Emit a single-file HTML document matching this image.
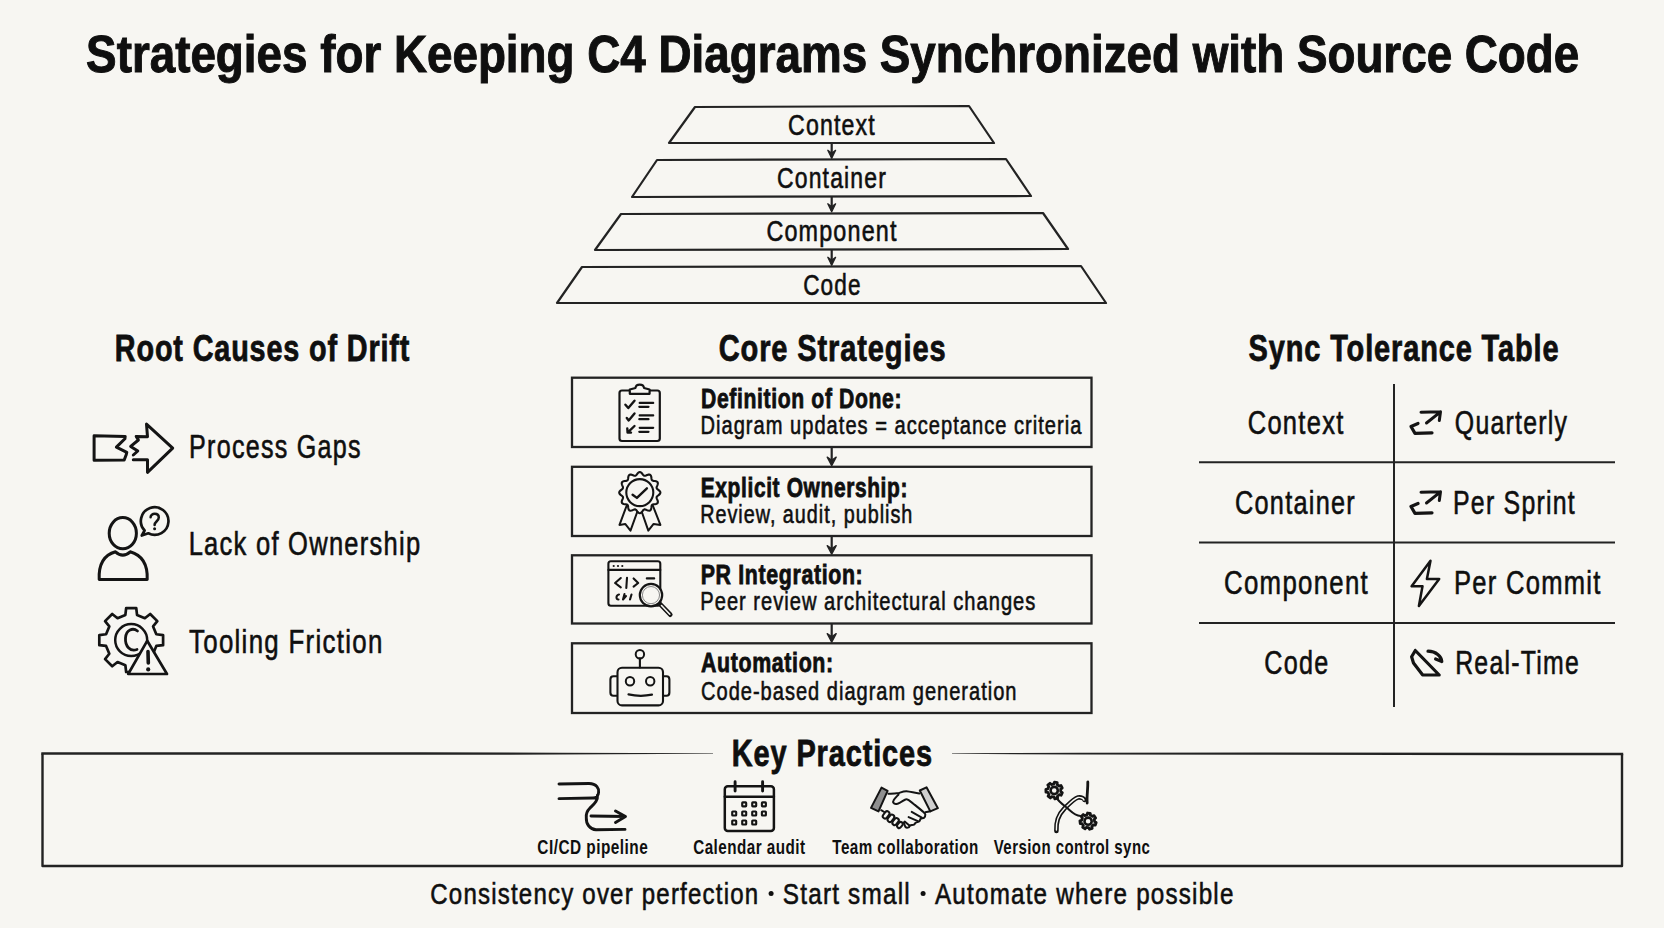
<!DOCTYPE html>
<html><head><meta charset="utf-8"><style>
html,body{margin:0;padding:0;background:#f7f6f2;}
svg{display:block;font-family:"Liberation Sans",sans-serif;}
</style></head><body>
<svg width="1664" height="928" viewBox="0 0 1664 928">
<rect width="1664" height="928" fill="#f7f6f2"/>
<g fill="#0f0f0f">
<text transform="matrix(0.8799 0 0 1 86.12 72.20)" font-size="52.04" font-weight="bold" stroke="#0f0f0f" stroke-width="1.0" letter-spacing="0.000">Strategies for Keeping C4 Diagrams Synchronized with Source Code</text>
<text transform="matrix(0.7881 0 0 1 788.11 134.70)" font-size="29.36" font-weight="normal" stroke="#0f0f0f" stroke-width="0.6" letter-spacing="1.468">Context</text>
<text transform="matrix(0.7748 0 0 1 777.03 188.40)" font-size="29.65" font-weight="normal" stroke="#0f0f0f" stroke-width="0.6" letter-spacing="1.483">Container</text>
<text transform="matrix(0.8037 0 0 1 766.40 241.10)" font-size="29.07" font-weight="normal" stroke="#0f0f0f" stroke-width="0.6" letter-spacing="1.454">Component</text>
<text transform="matrix(0.7699 0 0 1 803.13 295.00)" font-size="29.36" font-weight="normal" stroke="#0f0f0f" stroke-width="0.6" letter-spacing="1.468">Code</text>
<text transform="matrix(0.7675 0 0 1 114.86 361.30)" font-size="37.50" font-weight="bold" stroke="#0f0f0f" stroke-width="0.8" letter-spacing="1.125">Root Causes of Drift</text>
<text transform="matrix(0.7840 0 0 1 718.72 361.30)" font-size="37.06" font-weight="bold" stroke="#0f0f0f" stroke-width="0.8" letter-spacing="1.112">Core Strategies</text>
<text transform="matrix(0.7813 0 0 1 1248.62 361.30)" font-size="37.06" font-weight="bold" stroke="#0f0f0f" stroke-width="0.8" letter-spacing="1.112">Sync Tolerance Table</text>
<text transform="matrix(0.7683 0 0 1 189.06 457.80)" font-size="32.70" font-weight="normal" stroke="#0f0f0f" stroke-width="0.6" letter-spacing="1.635">Process Gaps</text>
<text transform="matrix(0.7799 0 0 1 188.64 555.10)" font-size="32.70" font-weight="normal" stroke="#0f0f0f" stroke-width="0.6" letter-spacing="1.635">Lack of Ownership</text>
<text transform="matrix(0.7909 0 0 1 189.00 652.50)" font-size="32.70" font-weight="normal" stroke="#0f0f0f" stroke-width="0.6" letter-spacing="1.635">Tooling Friction</text>
<text transform="matrix(0.7780 0 0 1 701.02 408.00)" font-size="27.18" font-weight="bold" stroke="#0f0f0f" stroke-width="0.8" letter-spacing="0.815">Definition of Done:</text>
<text transform="matrix(0.7603 0 0 1 700.48 433.80)" font-size="26.45" font-weight="normal" stroke="#0f0f0f" stroke-width="0.6" letter-spacing="1.323">Diagram updates = acceptance criteria</text>
<text transform="matrix(0.7706 0 0 1 700.73 497.30)" font-size="27.18" font-weight="bold" stroke="#0f0f0f" stroke-width="0.8" letter-spacing="0.815">Explicit Ownership:</text>
<text transform="matrix(0.7482 0 0 1 700.20 523.30)" font-size="26.45" font-weight="normal" stroke="#0f0f0f" stroke-width="0.6" letter-spacing="1.323">Review, audit, publish</text>
<text transform="matrix(0.7857 0 0 1 700.71 584.30)" font-size="27.18" font-weight="bold" stroke="#0f0f0f" stroke-width="0.8" letter-spacing="0.815">PR Integration:</text>
<text transform="matrix(0.7605 0 0 1 700.28 610.00)" font-size="26.45" font-weight="normal" stroke="#0f0f0f" stroke-width="0.6" letter-spacing="1.323">Peer review architectural changes</text>
<text transform="matrix(0.7861 0 0 1 701.00 672.40)" font-size="27.18" font-weight="bold" stroke="#0f0f0f" stroke-width="0.8" letter-spacing="0.815">Automation:</text>
<text transform="matrix(0.7580 0 0 1 701.04 699.60)" font-size="26.45" font-weight="normal" stroke="#0f0f0f" stroke-width="0.6" letter-spacing="1.323">Code-based diagram generation</text>
<text transform="matrix(0.7803 0 0 1 1247.72 433.70)" font-size="32.70" font-weight="normal" stroke="#0f0f0f" stroke-width="0.6" letter-spacing="1.635">Context</text>
<text transform="matrix(0.7605 0 0 1 1454.84 433.70)" font-size="32.70" font-weight="normal" stroke="#0f0f0f" stroke-width="0.6" letter-spacing="1.635">Quarterly</text>
<text transform="matrix(0.7734 0 0 1 1235.03 513.50)" font-size="32.70" font-weight="normal" stroke="#0f0f0f" stroke-width="0.6" letter-spacing="1.635">Container</text>
<text transform="matrix(0.7608 0 0 1 1452.98 513.50)" font-size="32.70" font-weight="normal" stroke="#0f0f0f" stroke-width="0.6" letter-spacing="1.635">Per Sprint</text>
<text transform="matrix(0.7895 0 0 1 1224.01 593.70)" font-size="32.70" font-weight="normal" stroke="#0f0f0f" stroke-width="0.6" letter-spacing="1.635">Component</text>
<text transform="matrix(0.7817 0 0 1 1454.04 593.70)" font-size="32.70" font-weight="normal" stroke="#0f0f0f" stroke-width="0.6" letter-spacing="1.635">Per Commit</text>
<text transform="matrix(0.7691 0 0 1 1264.33 673.60)" font-size="32.70" font-weight="normal" stroke="#0f0f0f" stroke-width="0.6" letter-spacing="1.635">Code</text>
<text transform="matrix(0.7600 0 0 1 1455.18 673.60)" font-size="32.70" font-weight="normal" stroke="#0f0f0f" stroke-width="0.6" letter-spacing="1.635">Real-Time</text>
<text transform="matrix(0.7904 0 0 1 731.82 766.20)" font-size="36.63" font-weight="bold" stroke="#0f0f0f" stroke-width="0.8" letter-spacing="1.099">Key Practices</text>
<text transform="matrix(0.7738 0 0 1 537.33 854.20)" font-size="19.91" font-weight="bold" stroke="#0f0f0f" stroke-width="0.0" letter-spacing="0.597">CI/CD pipeline</text>
<text transform="matrix(0.7655 0 0 1 693.23 854.20)" font-size="19.91" font-weight="bold" stroke="#0f0f0f" stroke-width="0.0" letter-spacing="0.597">Calendar audit</text>
<text transform="matrix(0.7632 0 0 1 832.30 854.20)" font-size="19.91" font-weight="bold" stroke="#0f0f0f" stroke-width="0.0" letter-spacing="0.597">Team collaboration</text>
<text transform="matrix(0.7539 0 0 1 993.70 854.20)" font-size="19.91" font-weight="bold" stroke="#0f0f0f" stroke-width="0.0" letter-spacing="0.597">Version control sync</text>
<text transform="matrix(0.8032 0 0 1 430.30 904.30)" font-size="29.94" font-weight="normal" stroke="#0f0f0f" stroke-width="0.6" letter-spacing="1.497">Consistency over perfection</text>
<text transform="matrix(0.8117 0 0 1 782.79 904.30)" font-size="29.94" font-weight="normal" stroke="#0f0f0f" stroke-width="0.6" letter-spacing="1.497">Start small</text>
<text transform="matrix(0.8087 0 0 1 935.00 904.30)" font-size="29.94" font-weight="normal" stroke="#0f0f0f" stroke-width="0.6" letter-spacing="1.497">Automate where possible</text>
</g>
<g fill="none" stroke="#232323" stroke-width="2.2" stroke-linejoin="round">
<path d="M695,107 L969,106 L994,143 L669,143 Z"/>
<path d="M657,160 L1006,159 L1031,196 L632,197 Z"/>
<path d="M621,214 L1043,213 L1068,249 L595,250 Z"/>
<path d="M582,267 L1081,266 L1106,303 L557,303 Z"/>
</g>
<path d="M831.7,143 L831.7,157.3" stroke="#232323" stroke-width="2.2" fill="none"/><path d="M827.8000000000001,150.3 L831.7,158.3 L835.6,150.3 L831.7,153.34 Z" stroke="#232323" stroke-width="1.32" fill="#232323" stroke-linejoin="round"/>
<path d="M831.7,197 L831.7,210.8" stroke="#232323" stroke-width="2.2" fill="none"/><path d="M827.8000000000001,203.8 L831.7,211.8 L835.6,203.8 L831.7,206.84 Z" stroke="#232323" stroke-width="1.32" fill="#232323" stroke-linejoin="round"/>
<path d="M831.7,250 L831.7,264.3" stroke="#232323" stroke-width="2.2" fill="none"/><path d="M827.8000000000001,257.3 L831.7,265.3 L835.6,257.3 L831.7,260.34000000000003 Z" stroke="#232323" stroke-width="1.32" fill="#232323" stroke-linejoin="round"/>
<circle cx="771.1" cy="893.5" r="2.5" fill="#0f0f0f"/><circle cx="923.1" cy="893.5" r="2.5" fill="#0f0f0f"/>
<g fill="none" stroke="#232323" stroke-width="2.3">
<rect x="572" y="377.7" width="519.5" height="69.30000000000001"/>
<rect x="572" y="466.8" width="519.5" height="69.19999999999999"/>
<rect x="572" y="555.3" width="519.5" height="68.20000000000005"/>
<rect x="572" y="643.3" width="519.5" height="69.70000000000005"/>
</g>
<path d="M831.7,447 L831.7,464.6" stroke="#232323" stroke-width="2.2" fill="none"/><path d="M827.2,457.1 L831.7,465.6 L836.2,457.1 L831.7,460.33000000000004 Z" stroke="#232323" stroke-width="1.32" fill="#232323" stroke-linejoin="round"/>
<path d="M831.7,536 L831.7,553.0999999999999" stroke="#232323" stroke-width="2.2" fill="none"/><path d="M827.2,545.5999999999999 L831.7,554.0999999999999 L836.2,545.5999999999999 L831.7,548.8299999999999 Z" stroke="#232323" stroke-width="1.32" fill="#232323" stroke-linejoin="round"/>
<path d="M831.7,623.5 L831.7,641.0999999999999" stroke="#232323" stroke-width="2.2" fill="none"/><path d="M827.2,633.5999999999999 L831.7,642.0999999999999 L836.2,633.5999999999999 L831.7,636.8299999999999 Z" stroke="#232323" stroke-width="1.32" fill="#232323" stroke-linejoin="round"/>
<g stroke="#232323" stroke-width="2" fill="none">
<path d="M1394,384 L1394,707"/>
<path d="M1199,462.2 L1615,462.2"/>
<path d="M1199,542.4 L1615,542.4"/>
<path d="M1199,623 L1615,623"/>
</g>
<path d="M42.5,753.6 L42.5,866 L1622,866 L1622,754" fill="none" stroke="#232323" stroke-width="2.4" stroke-linejoin="round"/>
<path fill="#232323" d="M41.3,752.35 L420.0,752.35 L560.0,752.65 L713.0,753.35 L713.0,753.85 L560.0,754.55 L420.0,754.85 L41.3,754.85 Z"/>
<path fill="#232323" d="M952.0,753.35 L1080.0,752.80 L1260.0,752.40 L1623.2,752.75 L1623.2,755.25 L1260.0,754.80 L1080.0,754.40 L952.0,753.85 Z"/>
<g fill="none" stroke="#141414" stroke-linecap="round" stroke-linejoin="round">
<path stroke-width="3.0" d="M125.2,436.4 L94.1,435.8 L94.1,460.3 L124.2,460 L126.1,455 L126.8,452.3 L116.4,447.1 L124.9,438.7 Z"/>
<path stroke-width="3.0" d="M133.3,455 L137.8,451 L130.7,446.4 L138.4,440 L136.2,436.4 L147.5,436.8 L146.5,424.1 L172.7,448.1 L147.5,472.3 L147.5,459.7 L133.3,459.7"/>
<ellipse stroke-width="3.0" cx="122.8" cy="533.2" rx="13.6" ry="15.6"/>
<path stroke-width="3.0" d="M99.2,579.4 C98.5,564 104,555 115.5,551.8 Q122.8,558.5 130.2,551.8 C141.5,555 147.8,564 147.2,579.4 Z"/>
<path stroke-width="2.7" d="M144.6,530.5 A13.8,13.8 0 1 1 148.3,533.3 L141.8,535.5 Z"/>
<path stroke-width="2.5" d="M150.6,517.2 C150.6,512.8 158.8,512.5 158.8,517.6 C158.8,521 154.6,521.5 154.6,525"/>
<circle cx="154.6" cy="528.8" r="1.5" fill="#141414" stroke="none"/>
<path stroke-width="2.7" d="M125.37,614.97 L126.15,608.20 L136.25,608.20 L137.03,614.97 L144.85,618.21 L150.19,613.97 L157.33,621.11 L153.09,626.45 L156.33,634.27 L163.10,635.05 L163.10,645.15 L156.33,645.93 L153.09,653.75 L157.33,659.09 L150.19,666.23 L144.85,661.99 L137.03,665.23 L136.25,672.00 L126.15,672.00 L125.37,665.23 L117.55,661.99 L112.21,666.23 L105.07,659.09 L109.31,653.75 L106.07,645.93 L99.30,645.15 L99.30,635.05 L106.07,634.27 L109.31,626.45 L105.07,621.11 L112.21,613.97 L117.55,618.21 Z"/>
<circle stroke-width="2.5" cx="131.2" cy="640.1" r="16"/>
<path stroke-width="2.8" d="M137.5,631 C133,627.5 126,629.5 125.5,638 C125,646 130,652 137,649.5"/>
<path stroke-width="2.7" fill="#f7f6f2" d="M147.2,640.8 L167,674 L128.2,674 Z"/>
<path stroke-width="3.6" d="M148,651.5 L148.3,663"/>
<circle cx="148.2" cy="669.4" r="2.1" fill="#141414" stroke="none"/>
<rect stroke-width="2.2" x="619.5" y="390.5" width="40.3" height="50.5" rx="2.5"/>
<path stroke-width="2.2" fill="#f7f6f2" d="M629.8,393.8 L629.8,389.5 L635.5,388 C636,383.5 643.5,383.5 644,388 L649.6,389.5 L649.6,393.8 Z"/>
<path stroke-width="2.4" d="M625.4,404.7 L628.3,408 L634.5,400.7 M626.8,417.9 L628.7,420.4 L634.5,413.5 M634.5,426 L627.6,432.6 M627.3,428.5 L627.6,432.6 L631,432.6"/>
<path stroke-width="2.2" d="M639.7,402.9 L653.2,402.9 M639.3,406.8 L648.5,406.8 M639.7,415.4 L653.2,415.4 M639.3,419.2 L648.5,419.2 M639.7,427.8 L653.2,427.8 M639.3,431.8 L648.5,431.8"/>
<path stroke-width="2" fill="#f7f6f2" d="M626.9,505 L619.5,524.9 L625.2,523.9 L630.5,530.6 L638.3,509"/>
<path stroke-width="2" fill="#f7f6f2" d="M640.8,509 L648.3,530.6 L653.6,523.9 L660.4,524.9 L652.6,505"/>
<path stroke-width="2.1" fill="#f7f6f2" d="M639.80,472.00 L640.69,472.23 L641.53,472.88 L642.28,473.76 L642.96,474.68 L643.61,475.40 L644.30,475.79 L645.10,475.80 L646.02,475.50 L647.07,475.05 L648.17,474.66 L649.21,474.52 L650.10,474.76 L650.75,475.41 L651.16,476.38 L651.37,477.53 L651.50,478.66 L651.70,479.61 L652.10,480.30 L652.79,480.70 L653.74,480.90 L654.87,481.03 L656.02,481.24 L656.99,481.65 L657.64,482.30 L657.88,483.19 L657.74,484.23 L657.35,485.33 L656.90,486.38 L656.60,487.30 L656.61,488.10 L657.00,488.79 L657.72,489.44 L658.64,490.12 L659.52,490.87 L660.17,491.71 L660.40,492.60 L660.17,493.49 L659.52,494.33 L658.64,495.08 L657.72,495.76 L657.00,496.41 L656.61,497.10 L656.60,497.90 L656.90,498.82 L657.35,499.87 L657.74,500.97 L657.88,502.01 L657.64,502.90 L656.99,503.55 L656.02,503.96 L654.87,504.17 L653.74,504.30 L652.79,504.50 L652.10,504.90 L651.70,505.59 L651.50,506.54 L651.37,507.67 L651.16,508.82 L650.75,509.79 L650.10,510.44 L649.21,510.68 L648.17,510.54 L647.07,510.15 L646.02,509.70 L645.10,509.40 L644.30,509.41 L643.61,509.80 L642.96,510.52 L642.28,511.44 L641.53,512.32 L640.69,512.97 L639.80,513.20 L638.91,512.97 L638.07,512.32 L637.32,511.44 L636.64,510.52 L635.99,509.80 L635.30,509.41 L634.50,509.40 L633.58,509.70 L632.53,510.15 L631.43,510.54 L630.39,510.68 L629.50,510.44 L628.85,509.79 L628.44,508.82 L628.23,507.67 L628.10,506.54 L627.90,505.59 L627.50,504.90 L626.81,504.50 L625.86,504.30 L624.73,504.17 L623.58,503.96 L622.61,503.55 L621.96,502.90 L621.72,502.01 L621.86,500.97 L622.25,499.87 L622.70,498.82 L623.00,497.90 L622.99,497.10 L622.60,496.41 L621.88,495.76 L620.96,495.08 L620.08,494.33 L619.43,493.49 L619.20,492.60 L619.43,491.71 L620.08,490.87 L620.96,490.12 L621.88,489.44 L622.60,488.79 L622.99,488.10 L623.00,487.30 L622.70,486.38 L622.25,485.33 L621.86,484.23 L621.72,483.19 L621.96,482.30 L622.61,481.65 L623.58,481.24 L624.73,481.03 L625.86,480.90 L626.81,480.70 L627.50,480.30 L627.90,479.61 L628.10,478.66 L628.23,477.53 L628.44,476.38 L628.85,475.41 L629.50,474.76 L630.39,474.52 L631.43,474.66 L632.53,475.05 L633.58,475.50 L634.50,475.80 L635.30,475.79 L635.99,475.40 L636.64,474.68 L637.32,473.76 L638.07,472.88 L638.91,472.23 L639.80,472.00 Z"/>
<circle stroke-width="2.1" cx="639.8" cy="492.6" r="13.5"/>
<path stroke-width="2.4" d="M632.6,494.7 L636.9,497.9 L646.9,488.3"/>
<rect stroke-width="2.1" x="608.4" y="561.3" width="51.9" height="44.5" rx="2.5"/>
<path stroke-width="2.1" d="M608.4,569.9 L660.3,569.9"/>
<g fill="#141414" stroke="none"><circle cx="613.7" cy="566" r="1.1"/><circle cx="618" cy="566" r="1.1"/><circle cx="622.3" cy="566" r="1.1"/></g>
<path stroke-width="2.1" d="M620.8,578 L615.1,583 L620.8,587.3 M627,577.7 L626.3,588 M633.6,578.4 L638.2,583 L633.6,586.6 M646.8,578.4 L654.2,578.4"/>
<path stroke-width="2.1" d="M619,594.5 C616,595 615.5,599.5 618.5,599.5 M624.5,594 L623,599.5 L626,596 M631.5,594.5 L630,599.5"/>
<circle stroke-width="2.2" fill="#f7f6f2" cx="651" cy="595.1" r="11.2"/>
<circle stroke-width="1" stroke="#888" cx="651" cy="595.1" r="8.6"/>
<path stroke-width="4.6" d="M660.5,604.5 L670.3,614.7"/>
<path stroke-width="1.6" stroke="#f7f6f2" d="M661.5,605.5 L669.8,614.2"/>
<rect stroke-width="2.1" x="617.5" y="667.7" width="45.5" height="37.7" rx="4.5"/>
<path stroke-width="2.1" d="M617,676.2 L613.5,676.2 Q610.4,676.2 610.4,679.5 L610.4,692.5 Q610.4,695.8 613.5,695.8 L617,695.8 M663.5,676.2 L666.5,676.2 Q669.4,676.2 669.4,679.5 L669.4,692.5 Q669.4,695.8 666.5,695.8 L663.5,695.8"/>
<circle stroke-width="2" cx="639.9" cy="654.2" r="4.2"/>
<path stroke-width="2.1" d="M639.9,658.4 L639.9,667.5"/>
<circle stroke-width="2" cx="630" cy="681.2" r="4.2"/><circle stroke-width="2" cx="650.2" cy="681.2" r="4.2"/>
<path stroke-width="2.2" d="M628.5,694.4 Q640,697 652,694.7"/>
<g transform="translate(0,0)"><path stroke-width="3.0" d="M1421,412.2 L1440.5,411.8 L1426.5,423 M1440.5,411.8 L1439.3,420.5"/><path stroke-width="3.2" d="M1418,423.5 L1411,426.5 L1415,433.4 L1432,432.8"/></g>
<g transform="translate(0,80)"><path stroke-width="3.0" d="M1421,412.2 L1440.5,411.8 L1426.5,423 M1440.5,411.8 L1439.3,420.5"/><path stroke-width="3.2" d="M1418,423.5 L1411,426.5 L1415,433.4 L1432,432.8"/></g>
<path stroke-width="2.5" d="M1430.5,560.8 L1411.6,586.3 L1422.5,586.3 L1418.9,605.9 L1439.2,579 L1426.9,579 Z"/>
<path stroke-width="3.2" d="M1415.3,650.5 L1411.6,656.7 L1413.5,663 L1422.5,674.8 L1439.2,675 L1415.3,650.5 M1428,651.2 C1436,651.5 1441.5,656 1441.8,661.5 M1435.6,659 L1441.8,661.5"/>
<path stroke-width="2.9" d="M559,784 L589,783.5 C597,783.5 599,789 598.6,792.2 C598.5,796 596,798 593,798 L559,798.6 M597.5,795 C598,801 594,804 590,808 C586,812 586,816 586.3,818 C586,824 590,829.5 596,829.7 L625,829.4 M591,816 L625.5,816.5 M615.5,811 L625.5,816.5 L615.5,822.5"/>
<rect stroke-width="2.5" x="724.8" y="786.3" width="49.1" height="44.6" rx="3"/>
<path stroke-width="2.4" d="M724.8,796.7 L773.9,796.7"/>
<path stroke-width="2.9" d="M735.1,781.8 L735.1,791 M762.6,781.8 L762.6,791"/>
<g stroke-width="2.1"><rect x="742.2" y="802.4" width="4.0" height="4.0" rx="0.6"/><rect x="752.2" y="802.4" width="4.0" height="4.0" rx="0.6"/><rect x="761.9" y="802.4" width="4.0" height="4.0" rx="0.6"/><rect x="732.2" y="811.5" width="4.0" height="4.0" rx="0.6"/><rect x="742.2" y="811.5" width="4.0" height="4.0" rx="0.6"/><rect x="752.2" y="811.5" width="4.0" height="4.0" rx="0.6"/><rect x="761.9" y="811.5" width="4.0" height="4.0" rx="0.6"/><rect x="732.2" y="820.5" width="4.0" height="4.0" rx="0.6"/><rect x="742.2" y="820.5" width="4.0" height="4.0" rx="0.6"/><rect x="752.2" y="820.5" width="4.0" height="4.0" rx="0.6"/></g>
<path stroke-width="2" fill="#8f8f8f" d="M881.5,787.6 L887.6,790.8 L878.5,811.4 L871,807.9 Z"/>
<path stroke-width="2" fill="#cfcfcf" d="M919.8,790.5 L926.5,787.3 L937.9,808.2 L930.3,811.4 Z"/>
<path stroke-width="2" d="M888.4,793.7 C893,794 896,793.5 899,793 C902,792 904,791.2 906.5,791.3 C911,791.8 915,793 919.3,793.4"/>
<path stroke-width="2" d="M898.50,794.50 C897.72,795.40 894.65,798.52 893.80,799.90 C892.95,801.28 893.00,802.10 893.40,802.80 C893.80,803.50 894.97,804.20 896.20,804.10 C897.43,804.00 899.25,802.97 900.80,802.20 C902.35,801.43 904.27,799.88 905.50,799.50 C906.73,799.12 906.65,799.00 908.20,799.90 C909.75,800.80 912.22,802.83 914.80,804.90 C917.38,806.97 921.95,810.68 923.70,812.30 C925.45,813.92 925.23,813.70 925.30,814.60 C925.37,815.50 924.88,816.98 924.10,817.70 C923.32,818.42 921.38,818.32 920.60,818.90 C919.82,819.48 920.23,820.55 919.40,821.20 C918.57,821.85 916.50,822.22 915.60,822.80 C914.70,823.38 914.92,824.25 914.00,824.70 C913.08,825.15 911.00,825.05 910.10,825.50 C909.20,825.95 909.37,827.15 908.60,827.40 C907.83,827.65 906.28,827.83 905.50,827.00 C904.72,826.17 904.17,823.17 903.90,822.40"/>
<path stroke-width="2" d="M911.7,811.9 L921.8,817.7 M908.6,817.1 L917.9,821.2 M904.7,821.6 L909.4,825.5 M925.3,812.3 L930.3,811.2"/>
<path stroke-width="2" d="M881.2,810.2 L885,812.5"/>
<rect stroke-width="2" fill="#f7f6f2" x="883.80" y="810.90" width="4.6" height="8" rx="2.30" transform="rotate(38 886.1 814.9)"/>
<rect stroke-width="2" fill="#f7f6f2" x="888.60" y="814.30" width="4.6" height="8" rx="2.30" transform="rotate(38 890.9 818.3)"/>
<rect stroke-width="2" fill="#f7f6f2" x="893.40" y="817.80" width="4.4" height="7.6" rx="2.20" transform="rotate(38 895.6 821.6)"/>
<rect stroke-width="2" fill="#f7f6f2" x="897.80" y="821.70" width="4.2" height="6.6" rx="2.10" transform="rotate(38 899.9 825.0)"/>
<path stroke-width="2.8" d="M1053.80,783.91 L1054.45,782.10 L1057.24,782.67 L1057.13,784.59 L1059.10,786.08 L1060.92,785.46 L1062.22,788.00 L1060.65,789.11 L1060.71,791.58 L1062.33,792.61 L1061.16,795.21 L1059.31,794.67 L1057.42,796.26 L1057.62,798.17 L1054.86,798.87 L1054.12,797.10 L1051.70,796.61 L1050.33,797.96 L1048.06,796.23 L1048.99,794.56 L1047.87,792.35 L1045.96,792.13 L1045.89,789.28 L1047.78,788.96 L1048.80,786.70 L1047.79,785.07 L1049.97,783.24 L1051.40,784.52 Z"/>
<circle stroke-width="2.6" cx="1054.2" cy="790.5" r="3.6"/>
<path stroke-width="2.8" d="M1087.06,814.78 L1087.52,813.02 L1090.29,813.30 L1090.39,815.12 L1092.47,816.39 L1094.13,815.65 L1095.64,817.99 L1094.28,819.20 L1094.59,821.62 L1096.20,822.46 L1095.32,825.09 L1093.52,824.79 L1091.82,826.53 L1092.17,828.32 L1089.55,829.27 L1088.67,827.67 L1086.25,827.43 L1085.07,828.82 L1082.70,827.37 L1083.40,825.69 L1082.08,823.64 L1080.25,823.58 L1079.91,820.82 L1081.66,820.32 L1082.44,818.01 L1081.34,816.55 L1083.29,814.56 L1084.77,815.62 Z"/>
<circle stroke-width="2.6" cx="1088.1" cy="821.2" r="3.6"/>
<path stroke-width="4.6" d="M1056.4,831 C1056,822 1058,815 1064,809 C1070,803 1074,798.5 1078,797.5 C1081,797 1084,798 1084.5,800"/>
<path stroke-width="1.4" stroke="#f7f6f2" d="M1056.4,830 C1056,822 1058,815 1064,809 C1070,803 1074,798.5 1078,797.5 C1081,797 1083.5,798.5 1084,800"/>
<path stroke-width="2.0" d="M1056.5,797.5 C1058,801 1062,804 1066,807 C1071,811 1074,815.5 1080.5,816"/>
<path stroke-width="2.8" d="M1087.8,782 C1088,790 1086.5,796 1087.2,803"/>
</g>
</svg></body></html>
